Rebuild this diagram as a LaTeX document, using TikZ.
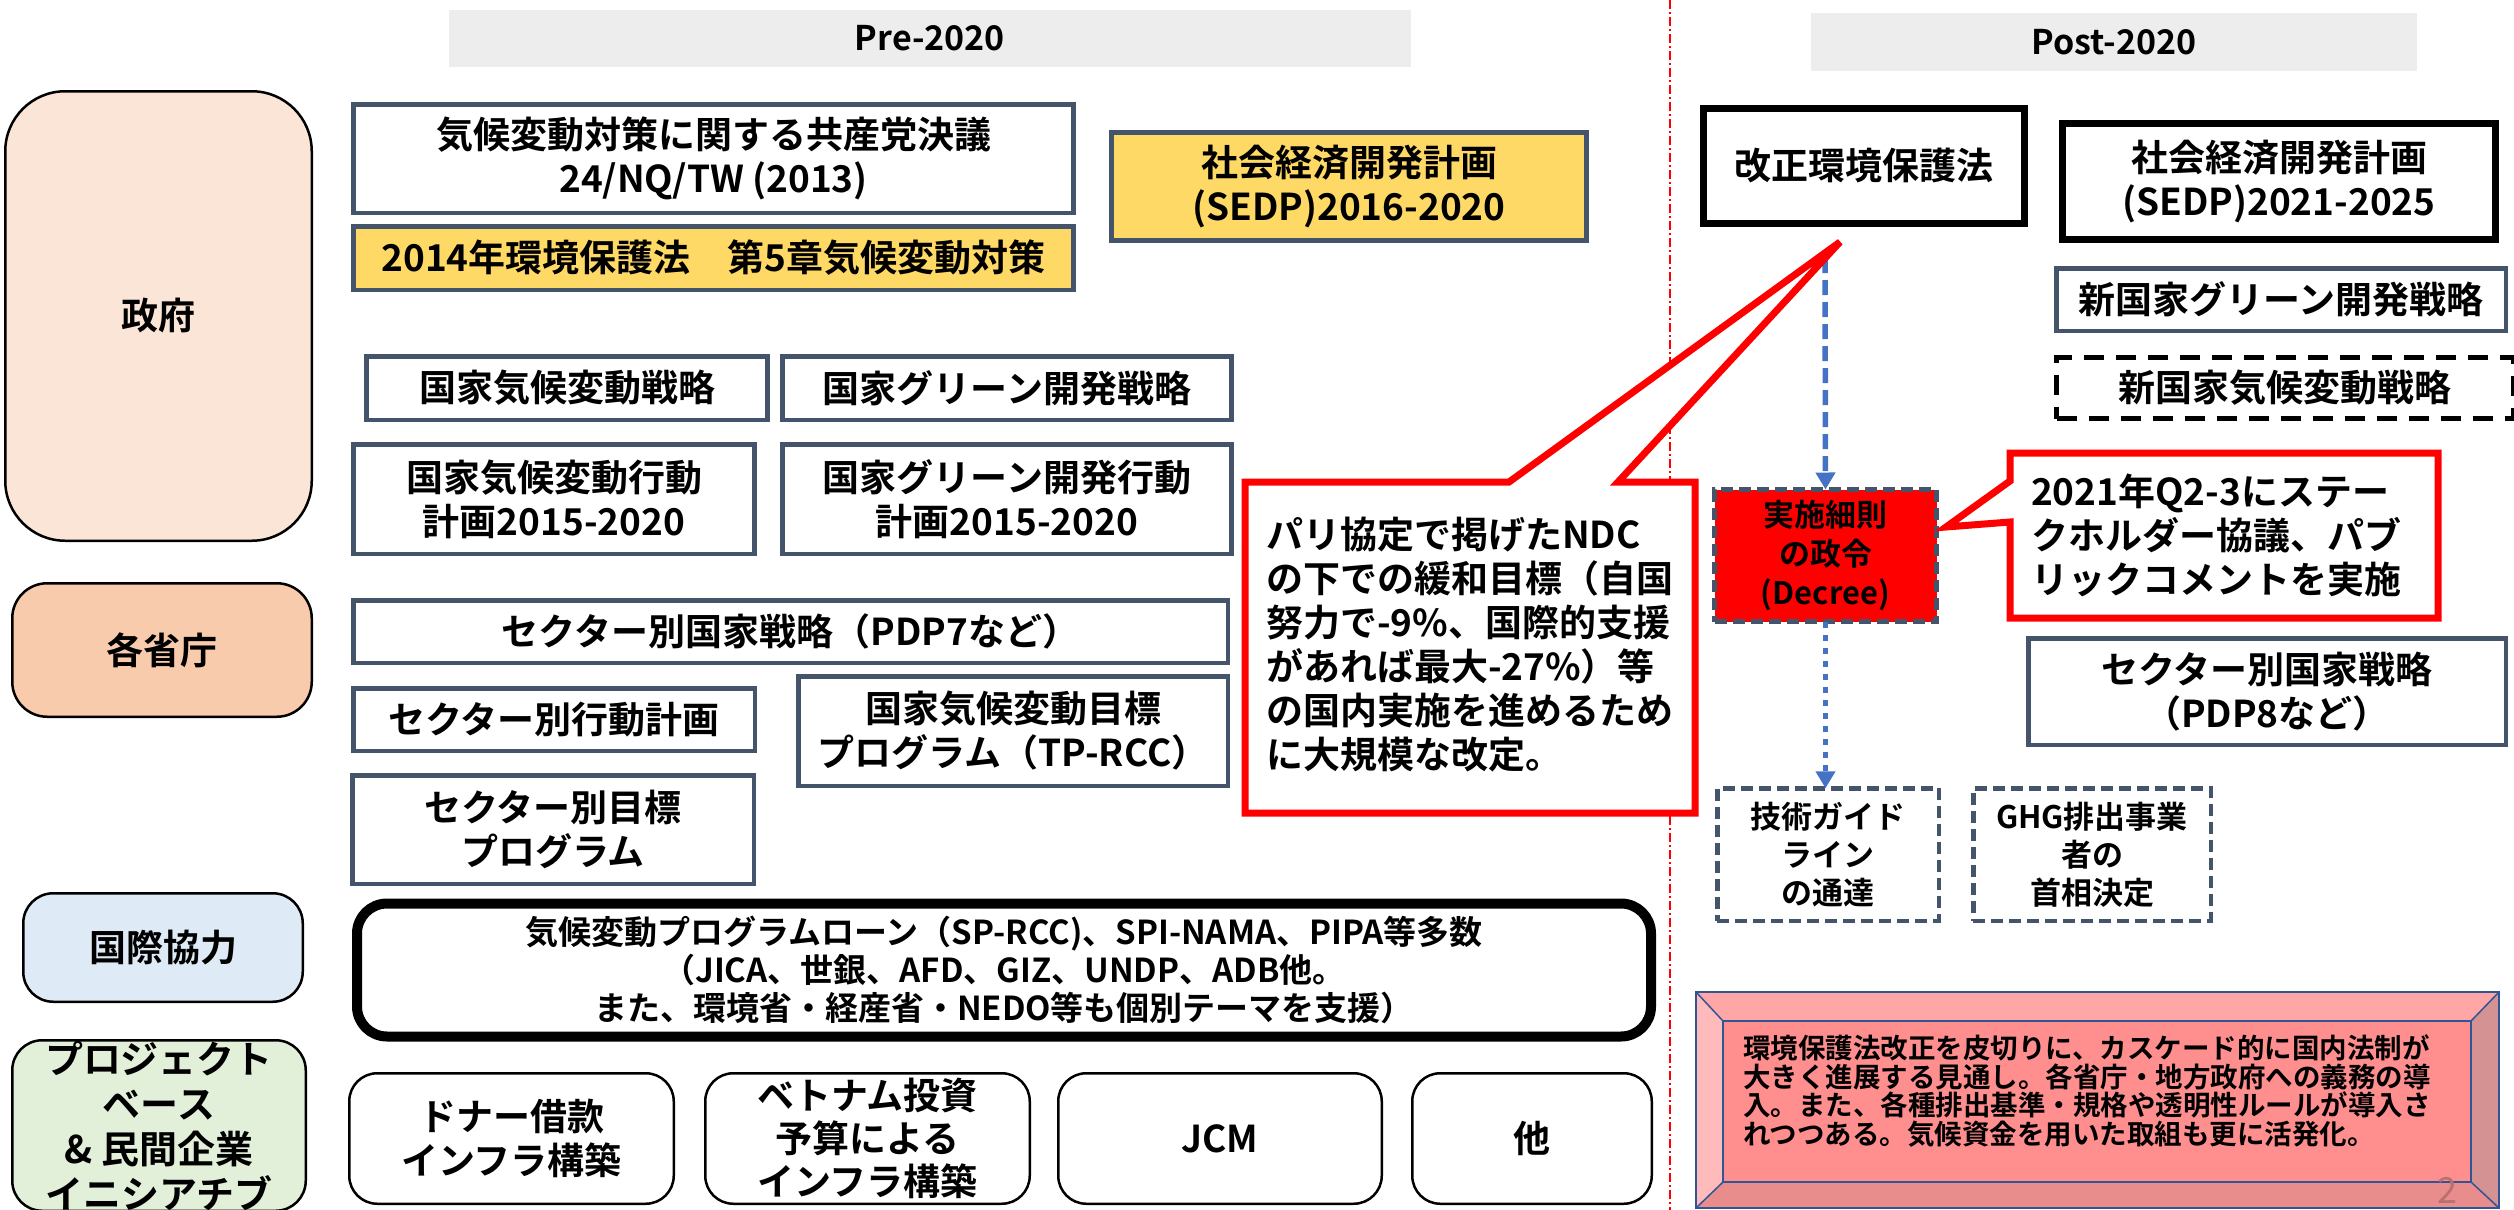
\documentclass[tikz,border=0pt]{standalone}
\usepackage{fontspec}
\setmainfont{Noto Sans CJK JP}[BoldFont={Noto Sans CJK JP Bold}]
\usetikzlibrary{arrows.meta}
\definecolor{slate}{HTML}{44546A}
\definecolor{yel}{HTML}{FFD966}
\definecolor{govfill}{HTML}{FBE5D6}
\definecolor{minfill}{HTML}{F8CBAD}
\definecolor{intlfill}{HTML}{DEEBF7}
\definecolor{projfill}{HTML}{E2F0D9}
\definecolor{headgray}{HTML}{EDEDED}
\definecolor{arrblue}{HTML}{4472C4}
\definecolor{bevtop}{HTML}{FFA6A6}
\definecolor{bevleft}{HTML}{FFBBBB}
\definecolor{bevright}{HTML}{D49292}
\definecolor{bevbot}{HTML}{E88C8C}
\definecolor{bevmid}{HTML}{FF8E8E}
\definecolor{bevline}{HTML}{2F5597}
\definecolor{pagenum}{HTML}{B87070}
\newcommand\myfs[2]{\fontsize{#1}{#2}\selectfont}
\begin{document}
\begin{tikzpicture}[x=1pt,y=-1pt,
  txtbase/.style={inner sep=0pt,outer sep=0pt,align=center,font=\bfseries\myfs{37}{44}},
  slatebox/.style={txtbase,draw=slate,line width=4.5pt,fill=white},
  yelbox/.style={slatebox,fill=yel},
  blackbox/.style={txtbase,draw=black,line width=7pt,fill=white},
  catbox/.style={txtbase,draw=black,line width=2.5pt},
  projbox/.style={txtbase,draw=black,line width=2.5pt,rounded corners=28pt,fill=white},
  dashslate/.style={txtbase,draw=slate,line width=4.5pt,dash pattern=on 12pt off 6pt,fill=white,font=\bfseries\myfs{31}{38}},
  header/.style={txtbase,fill=headgray,font=\bfseries\myfs{34}{40}},
  bluearrow/.style={draw=arrblue,line width=5.5pt,-{Triangle[width=19pt,length=17pt]}},
  callout/.style={draw=red,fill=white,line width=7pt},
]
\useasboundingbox (0,0) rectangle (2514,1210);
\fill[white] (0,0) rectangle (2514,1210);

% headers
\node[header,minimum width=962pt,minimum height=57pt] (pre) at (930,38.5) {Pre-2020};
\node[header,minimum width=606pt,minimum height=58pt] (post) at (2114,42) {Post-2020};

% divider
\draw[red,line width=1.5pt,dash pattern=on 9pt off 3pt on 2pt off 3pt] (1670,0) -- (1670,1210);

% category boxes
\node[catbox,fill=govfill,rounded corners=60pt,minimum width=306.5pt,minimum height=449.5pt] (cgov) at (158.5,316) {政府};
\node[catbox,fill=minfill,rounded corners=35pt,minimum width=299.5pt,minimum height=133.5pt] (cmin) at (162,650) {各省庁};
\node[catbox,fill=intlfill,rounded corners=30pt,minimum width=279.5pt,minimum height=108.5pt] (cintl) at (163,947.5) {国際協力};
\node[catbox,fill=projfill,rounded corners=30pt,minimum width=293.5pt,minimum height=170.5pt,font=\bfseries\myfs{38}{45}] (cproj) at (159,1125.5) {プロジェクト\\ベース\\\& 民間企業\\イニシアチブ};

% government (pre-2020)
\node[slatebox,minimum width=720pt,minimum height=108.5pt] (resol) at (713.5,158.5) {気候変動対策に関する共産党決議\\24/NQ/TW (2013)};
\node[yelbox,minimum width=720pt,minimum height=63.5pt] (law14) at (713.5,258) {2014年環境保護法　第5章気候変動対策};
\node[yelbox,minimum width=475pt,minimum height=108pt] (sedp16) at (1349,186.5) {社会経済開発計画\\(SEDP)2016-2020};
\node[slatebox,minimum width=401pt,minimum height=63.5pt] (nccs) at (567,388) {国家気候変動戦略};
\node[slatebox,minimum width=449pt,minimum height=63.5pt] (ngs) at (1007,388) {国家グリーン開発戦略};
\node[slatebox,minimum width=401pt,minimum height=109.5pt] (nap) at (554,499) {国家気候変動行動\\計画2015-2020};
\node[slatebox,minimum width=449pt,minimum height=109.5pt] (ngap) at (1007,499) {国家グリーン開発行動\\計画2015-2020};

% ministries (pre-2020)
\node[slatebox,minimum width=874.5pt,minimum height=62.5pt] (pdp7) at (790.5,631.5) {セクター別国家戦略（PDP7など）};
\node[slatebox,minimum width=401.5pt,minimum height=62.5pt] (sap) at (554,719.5) {セクター別行動計画};
\node[slatebox,minimum width=429.5pt,minimum height=109.5pt] (tprcc) at (1013,731) {国家気候変動目標\\プログラム（TP-RCC）};
\node[slatebox,minimum width=401.5pt,minimum height=108.5pt] (stp) at (553,829.5) {セクター別目標\\プログラム};

% international cooperation
\node[txtbase,draw=black,line width=10pt,rounded corners=30pt,fill=white,minimum width=1294pt,minimum height=133pt,font=\bfseries\myfs{33}{38}] (intl) at (1004,970) {気候変動プログラムローン（SP-RCC)、SPI-NAMA、PIPA等多数\\（JICA、世銀、AFD、GIZ、UNDP、ADB他。\\また、環境省・経産省・NEDO等も個別テーマを支援）};

% project boxes
\node[projbox,minimum width=324.5pt,minimum height=130.5pt] (donor) at (511.5,1138.5) {ドナー借款\\インフラ構築};
\node[projbox,minimum width=324.5pt,minimum height=130.5pt,font=\bfseries\myfs{37}{43}] (vnb) at (867.5,1138.5) {ベトナム投資\\予算による\\インフラ構築};
\node[projbox,minimum width=323.5pt,minimum height=130.5pt] (jcm) at (1220,1138.5) {JCM};
\node[projbox,minimum width=239.5pt,minimum height=130.5pt] (other) at (1532,1138.5) {他};

% post-2020
\node[blackbox,minimum width=321pt,minimum height=115pt] (law) at (1864,166) {改正環境保護法};
\node[blackbox,minimum width=433pt,minimum height=116pt] (sedp21) at (2279,181.5) {社会経済開発計画\\(SEDP)2021-2025};
\node[slatebox,minimum width=449.5pt,minimum height=62.5pt] (ngs2) at (2281,299.5) {新国家グリーン開発戦略};
\node[txtbase,draw=black,line width=5pt,dash pattern=on 20pt off 12pt,fill=white,minimum width=457pt,minimum height=61pt] (nccs2) at (2285,388) {新国家気候変動戦略};
\node[dashslate,fill=red,line width=5pt,minimum width=222pt,minimum height=132pt,font=\bfseries\myfs{31}{39}] (decree) at (1825.5,555.5) {実施細則\\の政令\\(Decree)};
\node[slatebox,minimum width=477.5pt,minimum height=106.5pt] (pdp8) at (2267,691.5) {セクター別国家戦略\\（PDP8など）};
\node[dashslate,minimum width=221.5pt,minimum height=132.5pt] (guide) at (1828,854.5) {技術ガイド\\ライン\\の通達};
\node[dashslate,minimum width=237.5pt,minimum height=132.5pt] (ghg) at (2092,854.5) {GHG排出事業\\者の\\首相決定};

% arrows
\coordinate (a1start) at (1825,258);
\draw[bluearrow,dash pattern=on 15pt off 7pt] (a1start) -- (decree.north);
\draw[bluearrow,dash pattern=on 6pt off 7pt] (decree.south) -- (decree.south |- guide.north);

% big callout
\draw[callout] (1245,482) -- (1509,482) -- (1840,242) -- (1618,482) -- (1695,482) -- (1695,813) -- (1245,813) -- cycle;
\node[txtbase,anchor=west,align=left] (paritext) at (1266,645) {パリ協定で掲げたNDC\\の下での緩和目標（自国\\努力で-9\%、国際的支援\\があれば最大-27\%）等\\の国内実施を進めるため\\に大規模な改定。};

% 2021 callout
\draw[callout] (2010,453) -- (2438,453) -- (2438,618) -- (2010,618) -- (2010,522) -- (1946,527) -- (2010,481) -- cycle;
\node[txtbase,anchor=west,align=left] (consult) at (2031,535) {2021年Q2-3にステー\\クホルダー協議、パブ\\リックコメントを実施};

% bevel box
\fill[bevtop] (1696,992) -- (2499,992) -- (2471,1021) -- (1723,1021) -- cycle;
\fill[bevleft] (1696,992) -- (1723,1021) -- (1723,1182) -- (1696,1208) -- cycle;
\fill[bevright] (2499,992) -- (2499,1208) -- (2471,1182) -- (2471,1021) -- cycle;
\fill[bevbot] (1696,1208) -- (1723,1182) -- (2471,1182) -- (2499,1208) -- cycle;
\node[inner sep=0pt,outer sep=0pt,fill=bevmid,draw=bevline,line width=1.5pt,minimum width=748pt,minimum height=161pt] (bevel) at (2097,1101.5) {};
\draw[bevline,line width=1.5pt] (1696,992) rectangle (2499,1208);
\draw[bevline,line width=1.5pt] (1696,992) -- (bevel.north west) (2499,992) -- (bevel.north east) (1696,1208) -- (bevel.south west) (2499,1208) -- (bevel.south east);
\node[txtbase,anchor=west,align=left,font=\bfseries\myfs{27.5}{28.5}] (bevtext) at (1743,1091) {環境保護法改正を皮切りに、カスケード的に国内法制が\\大きく進展する見通し。各省庁・地方政府への義務の導\\入。また、各種排出基準・規格や透明性ルールが導入さ\\れつつある。気候資金を用いた取組も更に活発化。};
\node[inner sep=0pt,text=pagenum,font=\myfs{36}{40}] (pnum) at (2447,1190) {2};
\end{tikzpicture}
\end{document}
